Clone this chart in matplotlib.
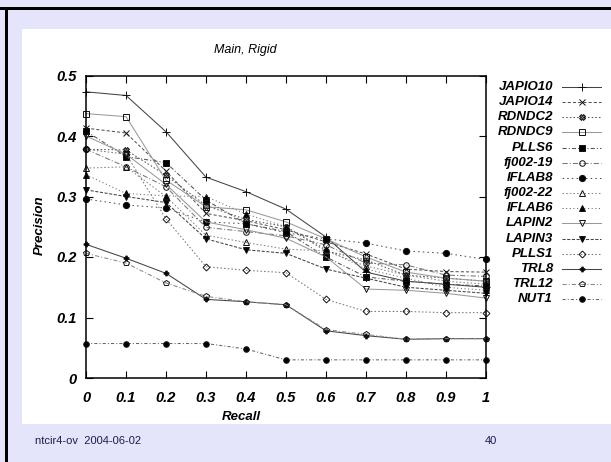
import matplotlib
matplotlib.use("Agg")
import matplotlib.pyplot as plt
from matplotlib.lines import Line2D
from matplotlib.patches import Rectangle

plt.rcParams['font.family'] = ['Liberation Sans', 'DejaVu Sans']

recall = [0, 0.1, 0.2, 0.3, 0.4, 0.5, 0.6, 0.7, 0.8, 0.9, 1.0]
x_ticks = [0, 0.1, 0.2, 0.3, 0.4, 0.5, 0.6, 0.7, 0.8, 0.9, 1]
x_ticklabels = ['0', '0.1', '0.2', '0.3', '0.4', '0.5', '0.6', '0.7', '0.8', '0.9', '1']
y_ticks = [0, 0.1, 0.2, 0.3, 0.4, 0.5]
y_ticklabels = ['0', '0.1', '0.2', '0.3', '0.4', '0.5']

names = ['JAPIO10', 'JAPIO14', 'RDNDC2', 'RDNDC9', 'PLLS6', 'fj002-19', 'IFLAB8',
         'fj002-22', 'IFLAB6', 'LAPIN2', 'LAPIN3', 'PLLS1', 'TRL8', 'TRL12', 'NUT1']

japio10 = [0.473, 0.467, 0.407, 0.332, 0.308, 0.279, 0.233, 0.175, 0.160, 0.155, 0.150]
japio14 = [0.413, 0.405, 0.342, 0.272, 0.260, 0.245, 0.225, 0.205, 0.180, 0.176, 0.175]
rdndc2 = [0.378, 0.377, 0.335, 0.285, 0.262, 0.250, 0.210, 0.195, 0.170, 0.165, 0.160]
rdndc9 = [0.437, 0.432, 0.327, 0.283, 0.278, 0.258, 0.230, 0.200, 0.175, 0.165, 0.160]
plls6 = [0.408, 0.366, 0.356, 0.294, 0.255, 0.242, 0.200, 0.167, 0.160, 0.155, 0.152]
fj002_19 = [0.378, 0.349, 0.316, 0.249, 0.242, 0.235, 0.220, 0.190, 0.187, 0.170, 0.168]
iflab8 = [0.296, 0.286, 0.281, 0.258, 0.255, 0.240, 0.230, 0.223, 0.210, 0.206, 0.196]
fj002_22 = [0.347, 0.349, 0.300, 0.236, 0.224, 0.213, 0.210, 0.185, 0.170, 0.160, 0.155]
iflab6 = [0.336, 0.305, 0.301, 0.300, 0.271, 0.250, 0.213, 0.180, 0.165, 0.150, 0.145]
lapin2 = [0.400, 0.370, 0.320, 0.258, 0.245, 0.231, 0.200, 0.147, 0.145, 0.140, 0.132]
lapin3 = [0.311, 0.300, 0.290, 0.230, 0.212, 0.206, 0.180, 0.165, 0.150, 0.145, 0.140]
plls1 = [0.378, 0.370, 0.263, 0.184, 0.178, 0.174, 0.130, 0.110, 0.110, 0.108, 0.108]
trl8 = [0.221, 0.198, 0.173, 0.130, 0.126, 0.121, 0.078, 0.070, 0.064, 0.065, 0.065]
trl12 = [0.206, 0.190, 0.157, 0.135, 0.126, 0.121, 0.080, 0.072, 0.064, 0.065, 0.065]
nut1 = [0.057, 0.057, 0.057, 0.057, 0.048, 0.030, 0.030, 0.030, 0.030, 0.030, 0.030]

series = [japio10, japio14, rdndc2, rdndc9, plls6, fj002_19, iflab8,
          fj002_22, iflab6, lapin2, lapin3, plls1, trl8, trl12, nut1]

# (linestyle, marker, facecolor, line color)
styles = [
    ('-', '+', 'none', '#444444'),
    ((0, (3, 2)), 'x', 'none', '#555555'),
    ((0, (1.5, 2)), 'X', '#888888', '#555555'),
    ('-', 's', 'none', '#999999'),
    ((0, (4, 2, 1, 2)), 's', 'black', '#555555'),
    ((0, (5, 2, 1, 2)), 'o', 'none', '#777777'),
    ((0, (1.5, 3)), 'o', 'black', '#555555'),
    ((0, (1.5, 2)), '^', 'none', '#888888'),
    ((0, (1, 2.5)), '^', 'black', '#666666'),
    ('-', 'v', 'none', '#999999'),
    ((0, (3, 1.5)), 'v', 'black', '#444444'),
    ((0, (1.5, 2)), 'D', 'none', '#777777'),
    ('-', 'P', 'black', '#444444'),
    ((0, (4, 2, 1, 2)), 'p', 'none', '#888888'),
    ((0, (3, 2, 1, 2)), 'o', 'black', '#666666'),
]
msizes = [5.5, 4.5, 4, 4.5, 4.5, 4, 4.5, 4, 4, 4.5, 4, 3.5, 3.5, 4, 4]

fig = plt.figure(figsize=(6.11, 4.62), dpi=100)
fig.patch.set_facecolor('#e4e4fb')
fig.patches.append(Rectangle((22 / 611, 38 / 462), 1, 395 / 462,
                             transform=fig.transFigure, facecolor='white',
                             edgecolor='none', zorder=0))
fig.patches.append(Rectangle((0, 1 - 10 / 462), 1, 3 / 462, transform=fig.transFigure,
                             facecolor='black', edgecolor='none', zorder=1))
fig.patches.append(Rectangle((5 / 611, 0), 3 / 611, 1 - 7 / 462, transform=fig.transFigure,
                             facecolor='black', edgecolor='none', zorder=1))

ax = fig.add_axes([86 / 611, 84 / 462, 400 / 611, 302.5 / 462])
ax.set_zorder(3)
ax.set_facecolor('white')

for vals, (ls, mk, fc, col), ms in zip(series, styles, msizes):
    ax.plot(recall, vals, linestyle=ls, color=col, linewidth=0.75, marker=mk,
            markersize=ms, markerfacecolor=fc, markeredgecolor='#111111',
            markeredgewidth=0.7, clip_on=False)

ax.set_xlim(0, 1)
ax.set_ylim(0, 0.5)
ax.set_xticks(x_ticks)
ax.set_xticklabels(x_ticklabels)
ax.set_yticks(y_ticks)
ax.set_yticklabels(y_ticklabels)
ax.tick_params(direction='in', length=5, width=0.8, top=True, right=True,
               labelsize=10.5)
ax.tick_params(axis='x', pad=9)
ax.tick_params(axis='y', pad=7)
for lab in ax.get_xticklabels() + ax.get_yticklabels():
    lab.set_fontweight('bold')
    lab.set_fontstyle('italic')
for sp in ax.spines.values():
    sp.set_linewidth(1.1)

fig.text(245 / 611, 1 - 50 / 462, 'Main, Rigid', ha='center', va='center',
         fontsize=9, fontstyle='italic', zorder=4)
fig.text(241 / 611, 1 - 417 / 462, 'Recall', ha='center', va='center',
         fontsize=9.5, fontstyle='italic', fontweight='bold', zorder=4)
fig.text(40 / 611, 1 - 225 / 462, 'Precision', ha='center', va='center',
         rotation=90, fontsize=9.5, fontstyle='italic', fontweight='bold', zorder=4)

# legend drawn at the right, text right-aligned, sample line after it
for i, (name, (ls, mk, fc, col), ms) in enumerate(zip(names, styles, msizes)):
    yy = 1 - (87 + 15.15 * i) / 462
    fig.text(553 / 611, yy, name, ha='right', va='center', fontsize=9.5,
             fontstyle='italic', fontweight='bold', zorder=4)
    fig.lines.append(Line2D([562 / 611, 581.5 / 611, 601 / 611], [yy, yy, yy],
                            transform=fig.transFigure, linestyle=ls, color=col,
                            linewidth=0.75, marker=mk, markevery=[1], markersize=ms,
                            markerfacecolor=fc, markeredgecolor='#111111',
                            markeredgewidth=0.7, zorder=4))

fig.text(35 / 611, 1 - 441 / 462, 'ntcir4-ov  2004-06-02', ha='left', va='center',
         fontsize=8, color='#1c1c4c', zorder=4)
fig.text(497 / 611, 1 - 441 / 462, '40', ha='right', va='center', fontsize=8,
         color='#1c1c4c', zorder=4)

fig.savefig('out.png', dpi=100, facecolor=fig.get_facecolor())
